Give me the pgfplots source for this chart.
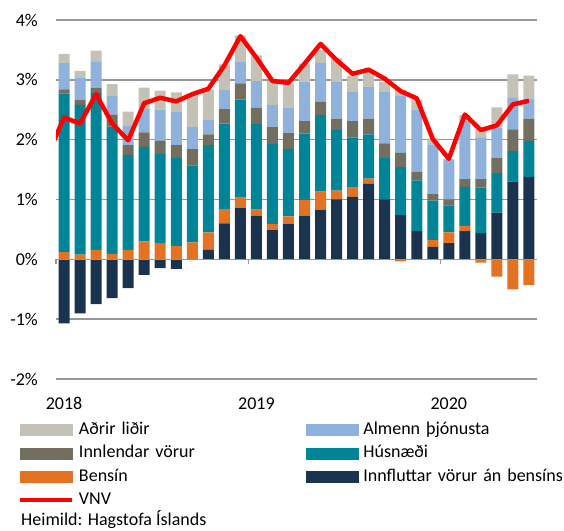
\documentclass[border=0pt]{standalone}
\usepackage{pgfplots}
\pgfplotsset{compat=1.18}
\usepackage{pgfplotstable}
\usepackage{fontspec}
\setmainfont{Carlito}

\definecolor{cbeige}{RGB}{196,194,180}
\definecolor{cblue}{RGB}{142,178,219}
\definecolor{cgray}{RGB}{114,111,96}
\definecolor{cteal}{RGB}{0,133,152}
\definecolor{corange}{RGB}{227,114,34}
\definecolor{cnavy}{RGB}{26,51,79}
\definecolor{gridc}{RGB}{150,150,150}

% x = month index (0 = Jan 2018); contributions in %-points
\pgfplotstableread{
x  nneg   oneg   npos  opos  teal  gray  blue  beige
0  -1.07  0      0     0.12  2.65  0.07  0.44  0.15
1  -0.905 0      0     0.08  2.50  0.09  0.37  0.11
2  -0.75  0      0     0.16  2.62  0.09  0.43  0.19
3  -0.65  0      0     0.09  2.13  0.20  0.32  0.19
4  -0.48  0      0     0.16  1.58  0.17  0.32  0.24
5  -0.26  0      0     0.30  1.58  0.24  0.39  0.36
6  -0.145 0      0     0.27  1.49  0.22  0.52  0.32
7  -0.16  0      0     0.22  1.47  0.22  0.55  0.33
8  -0.01  0      0     0.285 1.285 0.27  0.37  0.53
9  0      0      0.16  0.29  1.46  0.18  0.25  0.50
10 0      0      0.60  0.24  1.43  0.24  0.33  0.42
11 0      0      0.855 0.175 1.64  0.27  0.37  0.43
12 0      0      0.73  0.10  1.43  0.27  0.45  0.43
13 0      0      0.49  0.10  1.34  0.28  0.37  0.40
14 0      0      0.59  0.13  1.12  0.27  0.43  0.40
15 0      0      0.73  0.26  1.11  0.21  0.66  0.30
16 0      0      0.83  0.30  1.28  0.22  0.65  0.22
17 0      0      1.00  0.15  1.01  0.19  0.61  0.40
18 0      0      1.045 0.155 0.84  0.27  0.49  0.27
19 0      0      1.26  0.09  0.74  0.26  0.53  0.25
20 0      -0.01  1.00  0     0.69  0.25  0.86  0.17
21 0      -0.035 0.74  0     0.80  0.24  0.95  0.10
22 0      0      0.47  0     0.85  0.14  1.04  0.17
23 0      0      0.21  0.11  0.66  0.11  0.83  0.10
24 0      0      0.27  0.18  0.45  0.10  0.66  0.02
25 0      0      0.47  0.09  0.65  0.13  0.98  0.09
26 0      -0.055 0.44  0     0.76  0.14  0.69  0.15
27 0      -0.29  0.78  0     0.66  0.25  0.51  0.34
28 0      -0.50  1.30  0     0.51  0.36  0.53  0.39
29 0      -0.43  1.38  0     0.60  0.37  0.34  0.38
}\contrib

\pgfplotstableread{
x  vnv
-1 1.75
0  2.37
1  2.27
2  2.76
3  2.27
4  1.99
5  2.61
6  2.70
7  2.64
8  2.76
9  2.85
10 3.24
11 3.73
12 3.37
13 2.98
14 2.95
15 3.27
16 3.60
17 3.33
18 3.10
19 3.17
20 3.02
21 2.81
22 2.69
23 2.01
24 1.68
25 2.42
26 2.16
27 2.24
28 2.59
29 2.65
}\vnvdata

\begin{document}
\fontsize{18}{21.6}\selectfont
\begin{tikzpicture}
\useasboundingbox (0,0) rectangle (564pt,530pt);
\begin{axis}[
  at={(56pt,151pt)}, anchor=south west,
  width=481pt, height=359pt, scale only axis,
  xmin=-0.5, xmax=29.5, ymin=-2, ymax=4,
  enlargelimits=false,
  ybar stacked, bar width=11pt,
  axis line style={draw=none},
  major tick length=0pt,
  ytick={-2,-1,0,1,2,3,4},
  yticklabels={-2\%,-1\%,0\%,1\%,2\%,3\%,4\%},
  xtick={0,12,24}, xticklabels={2018,2019,2020},
  ymajorgrids, xmajorgrids=false,
  grid style={draw=gridc, line width=1.6pt},
  tick label style={font=\fontsize{18}{21.6}\selectfont},
  yticklabel style={anchor=east, xshift=-12pt},
  xticklabel style={anchor=base, yshift=-30pt},
]
\addplot[fill=cnavy, draw=none] table[x=x, y=nneg]{\contrib};
\addplot[fill=corange, draw=none] table[x=x, y=oneg]{\contrib};
\addplot[fill=cnavy, draw=none] table[x=x, y=npos]{\contrib};
\addplot[fill=corange, draw=none] table[x=x, y=opos]{\contrib};
\addplot[fill=cteal, draw=none] table[x=x, y=teal]{\contrib};
\addplot[fill=cgray, draw=none] table[x=x, y=gray]{\contrib};
\addplot[fill=cblue, draw=none] table[x=x, y=blue]{\contrib};
\addplot[fill=cbeige, draw=none] table[x=x, y=beige]{\contrib};
\end{axis}

\begin{axis}[
  at={(56pt,151pt)}, anchor=south west,
  width=481pt, height=359pt, scale only axis,
  xmin=-0.5, xmax=29.5, ymin=-2, ymax=4,
  hide axis, clip mode=individual,
  legend columns=2,
  legend cell align=left,
  legend style={at={(axis description cs:0,0)}, anchor=north west,
    xshift=-38pt, yshift=-40.5pt, draw=none, fill=none,
    inner sep=0pt, outer sep=0pt, row sep=2.3pt, column sep=0pt,
    font=\fontsize{18}{21.6}\selectfont,
    nodes={inner xsep=5pt, inner ysep=2pt, text height=13pt, text depth=4pt, text width=222pt, align=left}},
]
\draw[draw=gridc, line width=1.6pt] (axis cs:-0.5,0) -- (axis cs:29.5,0);
\draw[draw=gridc, line width=1.2pt] (axis cs:-0.5,0) -- ++(0pt,-5pt);
\draw[draw=gridc, line width=1.2pt] (axis cs:11.5,0) -- ++(0pt,-5pt);
\draw[draw=gridc, line width=1.2pt] (axis cs:23.5,0) -- ++(0pt,-5pt);
\addlegendimage{legend image code/.code={\fill[cbeige] (0pt,-5.5pt) rectangle (52pt,5.5pt);}}
\addlegendentry{Aðrir liðir}
\addlegendimage{legend image code/.code={\fill[cblue] (0pt,-5.5pt) rectangle (52pt,5.5pt);}}
\addlegendentry{Almenn þjónusta}
\addlegendimage{legend image code/.code={\fill[cgray] (0pt,-5.5pt) rectangle (52pt,5.5pt);}}
\addlegendentry{Innlendar vörur}
\addlegendimage{legend image code/.code={\fill[cteal] (0pt,-5.5pt) rectangle (52pt,5.5pt);}}
\addlegendentry{Húsnæði}
\addlegendimage{legend image code/.code={\fill[corange] (0pt,-5.5pt) rectangle (52pt,5.5pt);}}
\addlegendentry{Bensín}
\addlegendimage{legend image code/.code={\fill[cnavy] (0pt,-5.5pt) rectangle (52pt,5.5pt);}}
\addlegendentry{Innfluttar vörur án bensíns}
\addplot[red, line width=4.5pt, line join=round, no markers,
  legend image code/.code={\draw[red, line width=4pt] (0pt,0pt) -- (52pt,0pt);}]
  table[x=x, y=vnv]{\vnvdata};
\addlegendentry{VNV}
\end{axis}
\node[anchor=base west, inner sep=0pt] at (21pt,4.5pt) {Heimild: Hagstofa Íslands};
\end{tikzpicture}
\end{document}
